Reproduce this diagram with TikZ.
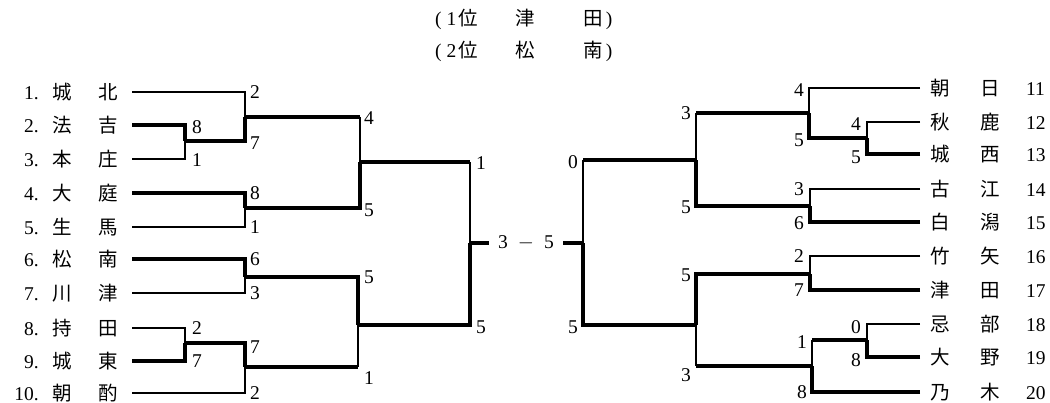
\documentclass[tikz,border=0pt]{standalone}
\usepackage{fontspec}
\usepackage{tikz}
\usetikzlibrary{positioning,calc}
\setmainfont{Liberation Serif}
\newfontfamily\jp{Noto Sans CJK JP}
\newcommand{\leftteam}[3]{\makebox[28pt][r]{#1}\hspace{14pt}{\jp #2}\hspace{26pt}{\jp #3}}
\newcommand{\rightteam}[3]{{\jp #1}\hspace{31pt}{\jp #2}\hspace{26pt}#3}
\newcommand{\rankline}[3]{(\hspace{5pt}#1\hspace{2pt}{\jp 位}\hspace{38pt}{\jp #2}\hspace{48pt}{\jp #3}\hspace{3pt})}

\begin{document}
\begin{tikzpicture}[x=1pt, y=-1pt,
    every node/.style={font=\fontsize{19.5}{22}\selectfont, inner sep=1pt},
    lteam/.style={anchor=east, inner xsep=14pt},
    rteam/.style={anchor=west, inner xsep=10pt},
    lscore/.style={anchor=west},
    rscore/.style={anchor=east},
    winline/.style={line width=3.2pt},
    loseline/.style={line width=1.3pt}]
    \useasboundingbox (0,0) rectangle (1050,403);

    % Header
    \node [anchor=west, inner sep=0pt] (rank1) at (435,19) {\rankline{1}{津}{田}};
    \node [anchor=west, inner sep=0pt] (rank2) at (435,51) {\rankline{2}{松}{南}};

    % Teams, left
    \node [lteam] (t1) at (132,92) {\leftteam{1.}{城}{北}};
    \node [lteam] (t2) at (132,125) {\leftteam{2.}{法}{吉}};
    \node [lteam] (t3) at (132,159) {\leftteam{3.}{本}{庄}};
    \node [lteam] (t4) at (132,193) {\leftteam{4.}{大}{庭}};
    \node [lteam] (t5) at (132,227) {\leftteam{5.}{生}{馬}};
    \node [lteam] (t6) at (132,259) {\leftteam{6.}{松}{南}};
    \node [lteam] (t7) at (132,293) {\leftteam{7.}{川}{津}};
    \node [lteam] (t8) at (132,328) {\leftteam{8.}{持}{田}};
    \node [lteam] (t9) at (132,361) {\leftteam{9.}{城}{東}};
    \node [lteam] (t10) at (132,393) {\leftteam{10.}{朝}{酌}};

    % Teams, right
    \node [rteam] (t11) at (920,88) {\rightteam{朝}{日}{11}};
    \node [rteam] (t12) at (920,122) {\rightteam{秋}{鹿}{12}};
    \node [rteam] (t13) at (920,154) {\rightteam{城}{西}{13}};
    \node [rteam] (t14) at (920,189) {\rightteam{古}{江}{14}};
    \node [rteam] (t15) at (920,222) {\rightteam{白}{潟}{15}};
    \node [rteam] (t16) at (920,256) {\rightteam{竹}{矢}{16}};
    \node [rteam] (t17) at (920,290) {\rightteam{津}{田}{17}};
    \node [rteam] (t18) at (920,324) {\rightteam{忌}{部}{18}};
    \node [rteam] (t19) at (920,357) {\rightteam{大}{野}{19}};
    \node [rteam] (t20) at (920,392) {\rightteam{乃}{木}{20}};

    % Match points
    \coordinate (r1a) at (185,141);
    \coordinate (r1b) at (185,343);
    \coordinate (r2a) at (245,117);
    \coordinate (r2b) at (245,208);
    \coordinate (r2c) at (245,277);
    \coordinate (r2d) at (245,367);
    \coordinate (r3a) at (360,162);
    \coordinate (r3b) at (358,325);
    \coordinate (sfl) at (470,243);
    \coordinate (sfr) at (583,243);
    \coordinate (r3c) at (696,160);
    \coordinate (r3d) at (696,325);
    \coordinate (r2e) at (809,113);
    \coordinate (r2f) at (810,206);
    \coordinate (r2g) at (810,274);
    \coordinate (r2h) at (812,366);
    \coordinate (r1c) at (867,138);
    \coordinate (r1d) at (867,340);

    % Final score
    \node [inner xsep=9pt] (final) at (526,243) {3\hspace{10pt}$-$\hspace{10pt}5};

    % Lines, left
    \draw [winline] (t2.east) -| (r1a);
    \draw [loseline] (t3.east) -| (r1a);
    \draw [winline] (t9.east) -| (r1b);
    \draw [loseline] (t8.east) -| (r1b);
    \draw [loseline] (t1.east) -| (r2a);
    \draw [winline] (r1a) -| (r2a);
    \draw [winline] (t4.east) -| (r2b);
    \draw [loseline] (t5.east) -| (r2b);
    \draw [winline] (t6.east) -| (r2c);
    \draw [loseline] (t7.east) -| (r2c);
    \draw [winline] (r1b) -| (r2d);
    \draw [loseline] (t10.east) -| (r2d);
    \draw [winline] (r2a) -- (r2a -| r3a);
    \draw [loseline] (r2a -| r3a) -- (r3a);
    \draw [winline] (r2b) -| (r3a);
    \draw [winline] (r2c) -| (r3b);
    \draw [winline] (r2d) -- (r2d -| r3b);
    \draw [loseline] (r2d -| r3b) -- (r3b);
    \draw [winline] (r3a) -- (r3a -| sfl);
    \draw [loseline] (r3a -| sfl) -- (sfl);
    \draw [winline] (r3b) -| (sfl);
    \draw [winline] (sfl) -- (final.west);

    % Lines, right
    \draw [winline] (t13.west) -| (r1c);
    \draw [loseline] (t12.west) -| (r1c);
    \draw [winline] (t19.west) -| (r1d);
    \draw [loseline] (t18.west) -| (r1d);
    \draw [loseline] (t11.west) -| (r2e);
    \draw [winline] (r1c) -| (r2e);
    \draw [loseline] (t14.west) -| (r2f);
    \draw [winline] (t15.west) -| (r2f);
    \draw [loseline] (t16.west) -| (r2g);
    \draw [winline] (t17.west) -| (r2g);
    \draw [winline] (r1d) -- (r1d -| r2h);
    \draw [loseline] (r1d -| r2h) -- (r2h);
    \draw [winline] (t20.west) -| (r2h);
    \draw [winline] (r2e) -- (r2e -| r3c);
    \draw [loseline] (r2e -| r3c) -- (r3c);
    \draw [winline] (r2f) -| (r3c);
    \draw [winline] (r2g) -| (r3d);
    \draw [winline] (r2h) -- (r2h -| r3d);
    \draw [loseline] (r2h -| r3d) -- (r3d);
    \draw [winline] (r3c) -- (r3c -| sfr);
    \draw [loseline] (r3c -| sfr) -- (sfr);
    \draw [winline] (r3d) -| (sfr);
    \draw [winline] (sfr) -- (final.east);

    % Scores, left
    \node [lscore] (s2) at (191,127) {8};
    \node [lscore] (s3) at (191,160) {1};
    \node [lscore] (s8) at (191,328) {2};
    \node [lscore] (s9) at (191,361) {7};
    \node [lscore] (s1) at (249,92) {2};
    \node [lscore] (s1a) at (249,143) {7};
    \node [lscore] (s4) at (249,193) {8};
    \node [lscore] (s5) at (249,227) {1};
    \node [lscore] (s6) at (249,259) {6};
    \node [lscore] (s7) at (249,293) {3};
    \node [lscore] (s1b) at (249,347) {7};
    \node [lscore] (s10) at (249,393) {2};
    \node [lscore] (s2a) at (363,118) {4};
    \node [lscore] (s2b) at (363,210) {5};
    \node [lscore] (s2c) at (363,277) {5};
    \node [lscore] (s2d) at (363,378) {1};
    \node [lscore] (s3a) at (475,163) {1};
    \node [lscore] (s3b) at (475,327) {5};

    % Scores, right
    \node [rscore] (s3c) at (579,162) {0};
    \node [rscore] (s3d) at (579,327) {5};
    \node [rscore] (s2e) at (692,113) {3};
    \node [rscore] (s2f) at (692,207) {5};
    \node [rscore] (s2g) at (692,275) {5};
    \node [rscore] (s2h) at (692,375) {3};
    \node [rscore] (s11) at (805,90) {4};
    \node [rscore] (s1c) at (805,140) {5};
    \node [rscore] (s14) at (805,189) {3};
    \node [rscore] (s15) at (805,223) {6};
    \node [rscore] (s16) at (805,256) {2};
    \node [rscore] (s17) at (805,290) {7};
    \node [rscore] (s1d) at (808,342) {1};
    \node [rscore] (s20) at (808,392) {8};
    \node [rscore] (s12) at (862,124) {4};
    \node [rscore] (s13) at (862,157) {5};
    \node [rscore] (s18) at (862,327) {0};
    \node [rscore] (s19) at (862,360) {8};
  \end{tikzpicture}
\end{document}
